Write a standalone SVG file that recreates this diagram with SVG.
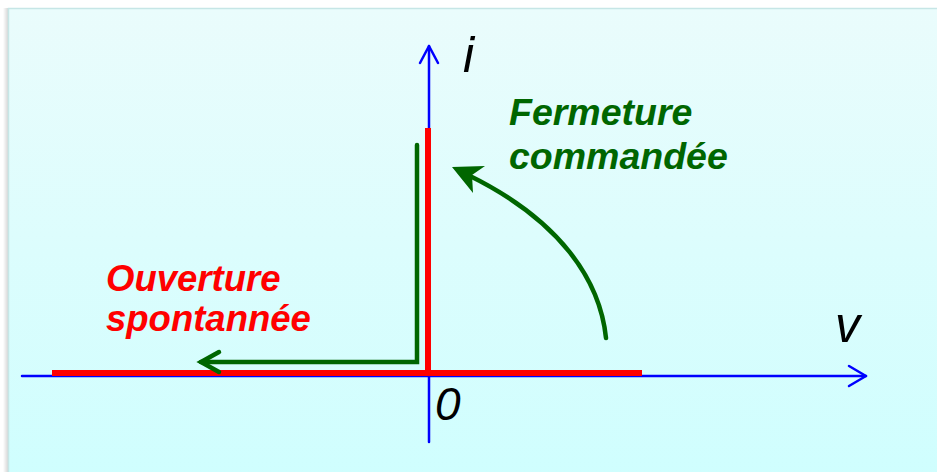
<svg xmlns="http://www.w3.org/2000/svg" width="937" height="472" viewBox="0 0 937 472">
<defs>
<linearGradient id="bg" x1="0" y1="0" x2="0" y2="1">
<stop offset="0" stop-color="#eafcfc"/>
<stop offset="1" stop-color="#cffefe"/>
</linearGradient>
<linearGradient id="sh" x1="0" y1="0" x2="1" y2="0">
<stop offset="0" stop-color="#ffffff"/>
<stop offset="1" stop-color="#cfcfcf"/>
</linearGradient>
</defs>
<style>
.ax{stroke:#0000ff;stroke-width:2.5;fill:none;stroke-linecap:round;stroke-linejoin:round}
.red{stroke:#ff0000;stroke-width:6;fill:none}
.grn{stroke:#006600;stroke-width:4.5;fill:none;stroke-linecap:round;stroke-linejoin:miter}
.lbl{font-family:"Liberation Sans",Arial,sans-serif;font-style:italic}
.t1{font-weight:bold;font-size:36.5px}
</style>
<rect x="0" y="0" width="937" height="472" fill="#ffffff"/>
<rect x="3" y="8" width="6" height="464" fill="url(#sh)"/>
<rect x="8.5" y="8.5" width="940" height="470" fill="url(#bg)" stroke="#c6e6e6" stroke-width="1.5"/>
<g id="connectors">
<g id="v-axis"><path class="ax" d="M429,442 V46"/><path class="ax" d="M420,63 L429,46 L438,63"/></g>
<g id="h-axis"><path class="ax" d="M22,376 H866"/><path class="ax" d="M849,366 L866,376 L849,386"/></g>
<g id="red-char"><path class="red" d="M52,373 H642"/><path class="red" d="M428,376 V128"/></g>
<g id="green-open"><path class="grn" d="M417,145 V362 H201"/><path class="grn" d="M219,352 L201,362 L219,372"/></g>
<g id="green-close"><path class="grn" d="M606,338 C600,280 560,220 468,175" stroke-width="5"/><path d="M452,167 L485,166 L472,175 L473,193 Z" fill="#006600"/></g>
</g>
<g id="label-i"><text class="lbl" x="463" y="72" font-size="50" fill="#000">i</text></g>
<g id="label-v"><text class="lbl" x="835" y="342" font-size="50" fill="#000">v</text></g>
<g id="label-0"><text class="lbl" x="435" y="420" font-size="46" fill="#000">0</text></g>
<g id="label-fermeture"><text class="lbl t1" fill="#006600" style="font-size:37.5px"><tspan x="509" y="125">Fermeture</tspan><tspan x="509" y="169">commandée</tspan></text></g>
<g id="label-ouverture"><text class="lbl t1" fill="#ff0000"><tspan x="106" y="291">Ouverture</tspan><tspan x="106" y="331">spontannée</tspan></text></g>
</svg>
